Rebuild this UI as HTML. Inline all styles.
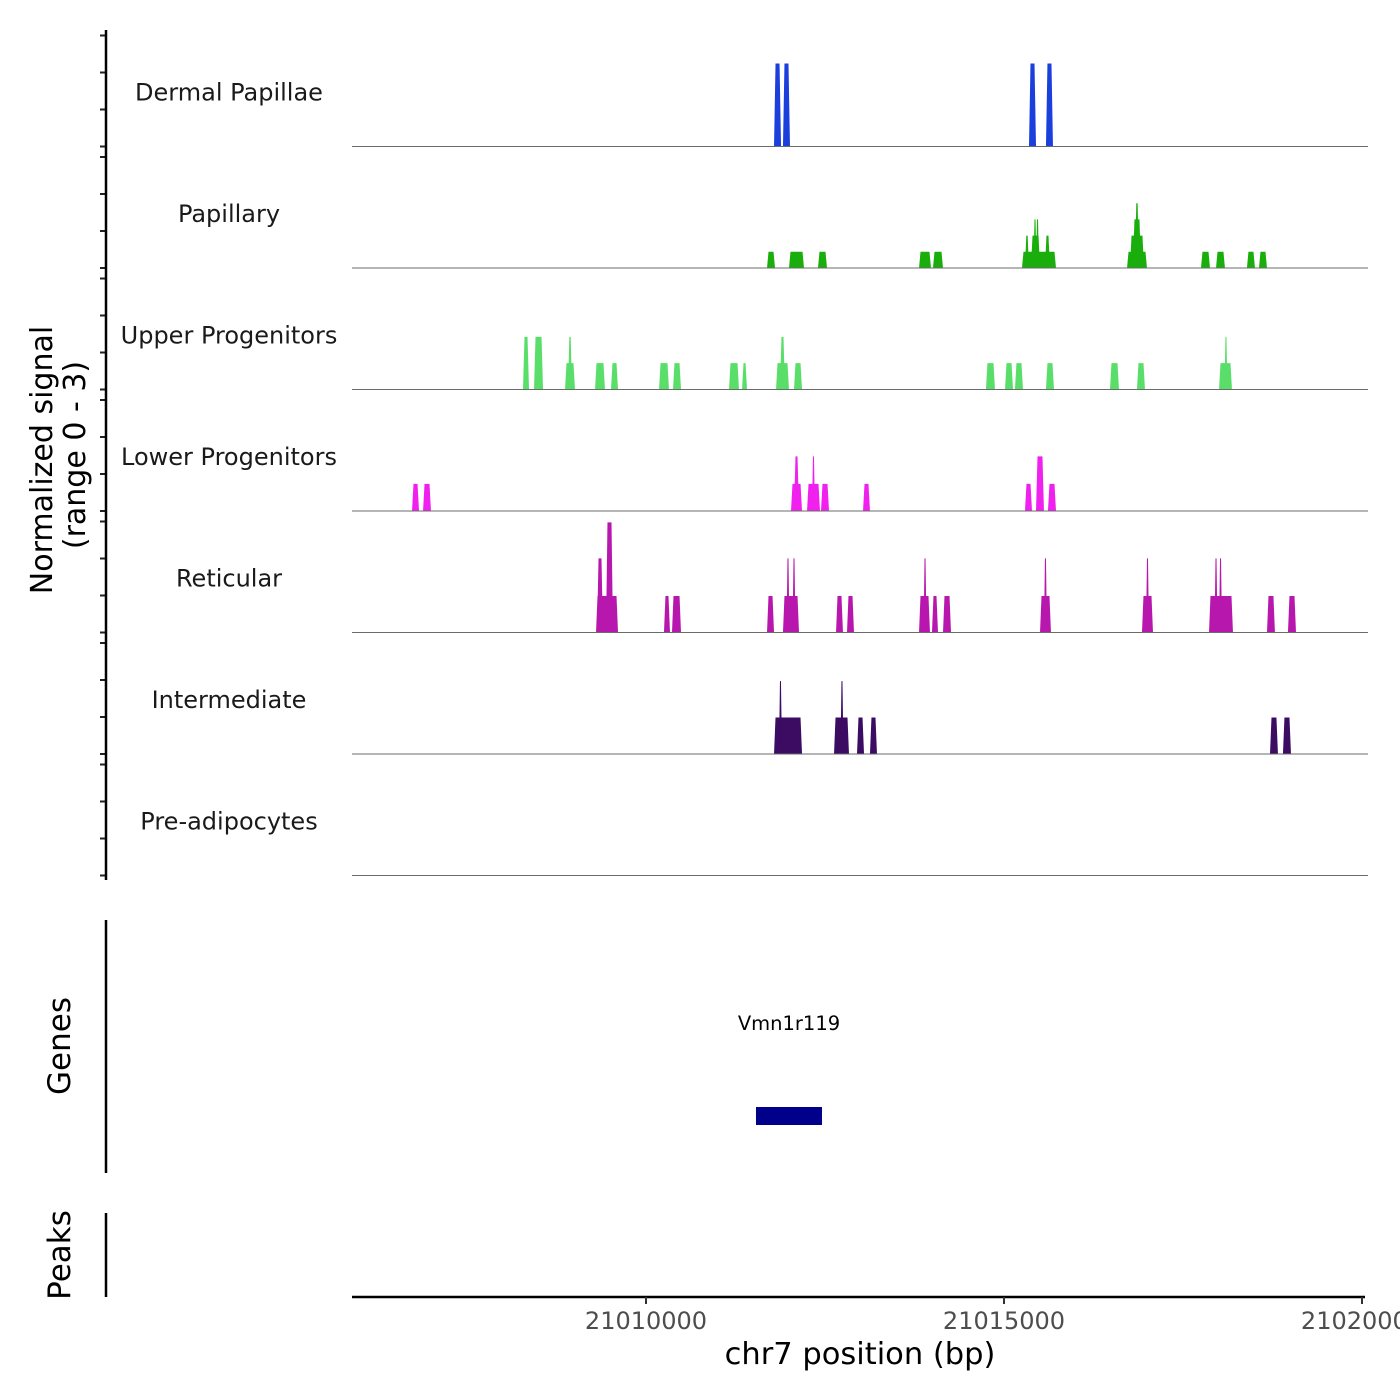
<!DOCTYPE html>
<html><head><meta charset="utf-8"><style>
html,body{margin:0;padding:0;background:#fff}
svg{display:block;font-family:"DejaVu Sans","Liberation Sans",sans-serif}
</style></head><body>
<svg id="chart" width="1400" height="1400" viewBox="0 0 1400 1400">
<g id="tracks"></g>
<g id="axes"></g>
</svg>
<script>
const trackNames = ["Dermal Papillae","Papillary","Upper Progenitors","Lower Progenitors","Reticular","Intermediate","Pre-adipocytes"];
const trackColors = ["#1a3fdd","#1aae0c","#5ade6a","#f020ee","#b817ad","#3c0b62","#888888"];
// pulses: [startBp, endBp, value]
const dermalPapillae = [[21011788,21011886,2.05],[21011913,21012011,2.05],[21015349,21015447,2.05],[21015586,21015684,2.05]];
const papillary = [[21011690,21011802,.4],[21011997,21012207,.4],[21012402,21012528,.4],[21013813,21013980,.4],[21014008,21014148,.4],
 [21015251,21015726,.4],[21015293,21015349,.8],[21015377,21015503,.8],[21015419,21015447,1.2],[21015461,21015475,1.2],[21015572,21015642,.8],
 [21016718,21016997,.4],[21016760,21016955,.8],[21016801,21016913,1.2],[21016829,21016885,1.6],
 [21017751,21017877,.4],[21017961,21018086,.4],[21018393,21018505,.4],[21018561,21018673,.4]];
const upperProgenitors = [[21008282,21008366,1.3],[21008436,21008562,1.3],[21008869,21009008,.65],[21008911,21008967,1.3],[21009288,21009427,.65],
 [21009511,21009609,.65],[21010182,21010321,.65],[21010377,21010489,.65],[21011159,21011299,.65],[21011341,21011411,.65],
 [21011816,21011997,.65],[21011871,21011941,1.3],[21012067,21012179,.65],[21014748,21014874,.65],[21015014,21015126,.65],
 [21015153,21015265,.65],[21015586,21015698,.65],[21016480,21016606,.65],[21016857,21016969,.65],[21018003,21018184,.65],[21018086,21018114,1.3]];
const lowerProgenitors = [[21006732,21006830,.67],[21006886,21006997,.67],[21012025,21012179,.67],[21012067,21012137,1.35],
 [21012249,21012430,.67],[21012332,21012346,1.35],[21012444,21012556,.67],[21013031,21013128,.67],
 [21015293,21015391,.67],[21015447,21015558,1.35],[21015614,21015726,.67]];
const reticular = [[21009302,21009609,.9],[21009316,21009399,1.83],[21009441,21009539,2.72],[21010251,21010335,.9],[21010363,21010489,.9],
 [21011690,21011788,.9],[21011913,21012137,.9],[21011969,21011997,1.83],[21012053,21012081,1.83],[21012654,21012751,.9],[21012807,21012905,.9],
 [21013813,21013966,.9],[21013883,21013911,1.83],[21013994,21014078,.9],[21014148,21014260,.9],
 [21015503,21015656,.9],[21015558,21015600,1.83],[21016927,21017081,.9],[21016983,21017025,1.83],
 [21017863,21018198,.9],[21017947,21017975,1.83],[21018003,21018045,1.83],[21018673,21018784,.9],[21018966,21019078,.9]];
const intermediate = [[21011788,21012179,.9],[21011871,21011885,1.8],[21012626,21012835,.9],[21012723,21012751,1.8],
 [21012947,21013045,.9],[21013128,21013226,.9],[21018715,21018826,.9],[21018896,21019008,.9]];
const preAdipocytes = [];
const trackData = [dermalPapillae,papillary,upperProgenitors,lowerProgenitors,reticular,intermediate,preAdipocytes];
const xTicks = [21010000,21015000,21020000];
const xTickLabels = ["21010000","21015000","21020000"];
const geneName = "Vmn1r119";
const geneStart = 21011536, geneEnd = 21012458;
const yMax = 3;

const NS="http://www.w3.org/2000/svg";
const X0=646, PXPERBP=358/5000;
function xs(bp){return X0+(bp-21010000)*PXPERBP;}
const TRACK_H=121.5, FIRST_BASE=146.5;
function ys(i,v){return FIRST_BASE+i*TRACK_H - v/yMax*TRACK_H;}
function mk(tag,attrs,parent){const e=document.createElementNS(NS,tag);for(const k in attrs)e.setAttribute(k,attrs[k]);parent.appendChild(e);return e;}
const tg=document.getElementById('tracks'), ag=document.getElementById('axes');

trackData.forEach((pulses,i)=>{
  const g=mk('g',{},tg);
  
  
  const base=ys(i,0);
  pulses.forEach(p=>{
    let x0=xs(p[0]),x1=xs(p[1]);
    if(x1-x0<3){const c=(x0+x1)/2;x0=c-1.5;x1=c+1.5;}
    const top=ys(i,p[2]);
    const r=Math.min(1.5,(x1-x0)/3);
    const poly=mk('polygon',{points:`${x0},${base} ${x0+r},${top} ${x1-r},${top} ${x1},${base}`,fill:trackColors[i]},g);
    
    
  });
  const bl=mk('line',{x1:352,x2:1368,y1:base,y2:base,stroke:'#6b6b6b','stroke-width':1},g);
  
  
  const t=mk('text',{x:229,y:base-46,'text-anchor':'middle','font-size':24,fill:'#1a1a1a'},g);
  t.textContent=trackNames[i];
  
  
  for(let k=0;k<4;k++){
    const ty=base-k*37;
    const tk=mk('line',{x1:100,x2:106,y1:ty,y2:ty,stroke:'#222','stroke-width':2},ag);
    
    
  }
});
[[30,880],[920,1173],[1213,1297]].forEach(s=>{
  const l=mk('line',{x1:106,x2:106,y1:s[0],y2:s[1],stroke:'#000','stroke-width':2.5},ag);
  
  
});
const yt=mk('text',{transform:'translate(52,460) rotate(-90)','text-anchor':'middle','font-size':30,fill:'#000'},ag);
yt.textContent='Normalized signal';


const yt2=mk('text',{transform:'translate(85,455) rotate(-90)','text-anchor':'middle','font-size':30,fill:'#000'},ag);
yt2.textContent='(range 0 - 3)';


const gt=mk('text',{transform:'translate(70,1046) rotate(-90)','text-anchor':'middle','font-size':31,fill:'#000'},ag);
gt.textContent='Genes';


const pt=mk('text',{transform:'translate(70,1255) rotate(-90)','text-anchor':'middle','font-size':31,fill:'#000'},ag);
pt.textContent='Peaks';


const gr=mk('rect',{x:xs(geneStart),y:1107,width:xs(geneEnd)-xs(geneStart),height:18,fill:'#00008b'},ag);


const gl=mk('text',{x:(xs(geneStart)+xs(geneEnd))/2,y:1030,'text-anchor':'middle','font-size':19.5,fill:'#000'},ag);
gl.textContent=geneName;


const xa=mk('line',{x1:352,x2:1365,y1:1297,y2:1297,stroke:'#000','stroke-width':2.5},ag);


xTicks.forEach((v,j)=>{
  const x=xs(v);
  const tk=mk('line',{x1:x,x2:x,y1:1297,y2:1304,stroke:'#333','stroke-width':2},ag);
  
  
  const tl=mk('text',{x:x,y:1329,'text-anchor':'middle','font-size':24,fill:'#4d4d4d'},ag);
  tl.textContent=xTickLabels[j];
  
  
});
const xt=mk('text',{x:860,y:1364,'text-anchor':'middle','font-size':30.5,fill:'#000'},ag);
xt.textContent='chr7 position (bp)';


</script>
</body></html>
